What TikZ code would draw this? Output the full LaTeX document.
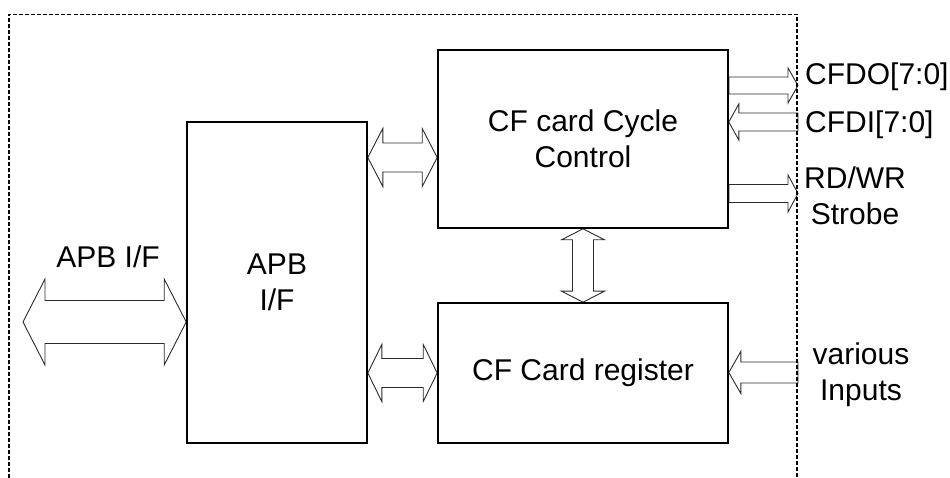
\documentclass[tikz,border=0pt]{standalone}
\usepackage{fontspec}
\setmainfont{Liberation Sans}
\usetikzlibrary{calc, backgrounds}
\definecolor{busGrey}{HTML}{2B2B2B}

% hollow bus arrows: {shaft half width}{head half width}{head length}
\tikzset{
  bus/.style n args={3}{draw=busGrey, line width=0.9pt, line join=miter,
    to path={let \p1=(\tikztostart), \p2=(\tikztotarget), \n1={atan2(\y2-\y1,\x2-\x1)} in
      -- ($(\p1)+(\n1:#3pt)+(\n1+90:#2pt)$)
      -- ($(\p1)+(\n1:#3pt)+(\n1+90:#1pt)$)
      -- ($(\p2)+(\n1+180:#3pt)+(\n1+90:#1pt)$)
      -- ($(\p2)+(\n1+180:#3pt)+(\n1+90:#2pt)$)
      -- (\p2)
      -- ($(\p2)+(\n1+180:#3pt)+(\n1-90:#2pt)$)
      -- ($(\p2)+(\n1+180:#3pt)+(\n1-90:#1pt)$)
      -- ($(\p1)+(\n1:#3pt)+(\n1-90:#1pt)$)
      -- ($(\p1)+(\n1:#3pt)+(\n1-90:#2pt)$)
      -- cycle}},
  feed/.style n args={3}{draw=busGrey, line width=0.9pt, line join=miter,
    to path={let \p1=(\tikztostart), \p2=(\tikztotarget), \n1={atan2(\y2-\y1,\x2-\x1)} in
      -- ($(\p1)+(\n1+90:#1pt)$)
      -- ($(\p2)+(\n1+180:#3pt)+(\n1+90:#1pt)$)
      -- ($(\p2)+(\n1+180:#3pt)+(\n1+90:#2pt)$)
      -- (\p2)
      -- ($(\p2)+(\n1+180:#3pt)+(\n1-90:#2pt)$)
      -- ($(\p2)+(\n1+180:#3pt)+(\n1-90:#1pt)$)
      -- ($(\p1)+(\n1-90:#1pt)$)
      -- cycle}}
}

\begin{document}
\begin{tikzpicture}[x=1pt, y=-1pt, font={\fontsize{30}{36}\selectfont},
    block/.style={draw, line width=1.6pt, align=center},
    lbl/.style={inner sep=0pt, align=center}]
  \useasboundingbox (0,0) rectangle (950,478);
  \draw[line width=1.3pt, dash pattern=on 4pt off 2pt] (9,478) |- (797,14.5) -- (797,478);

  \node[block, minimum width=180pt, minimum height=321pt] (apb) at (277,282.5) {APB\\I/F};
  \node[block, minimum width=290pt, minimum height=178pt] (cyc) at (583,139) {CF card Cycle\\Control};
  \node[block, minimum width=290pt, minimum height=140pt] (reg) at (583,373) {CF Card register};

  \coordinate (apbin) at (23,322);
  \coordinate (cycin) at (0,157.5);
  \coordinate (dout) at (798,85.5);
  \coordinate (din) at (798,122);
  \coordinate (rdwr) at (798,193.5);
  \coordinate (misc) at (798,372.5);

  \begin{scope}[on background layer]
    \draw[bus={21.5}{43}{22}] (apbin) to (apb.west |- apbin);
    \draw[bus={14.5}{29}{15}] (apb.east |- cycin) to (cyc.west |- cycin);
    \draw[bus={14.5}{28.5}{14}] (apb.east |- reg.west) to (reg.west);
    \draw[bus={10.5}{21.5}{11}] (cyc.south) to (reg.north);
    \draw[feed={8.5}{17.5}{10}] (cyc.east |- dout) to (dout);
    \draw[feed={9}{18}{10}] (din) to (cyc.east |- din);
    \draw[feed={9}{18.5}{10}] (cyc.east |- rdwr) to (rdwr);
    \draw[feed={10.5}{21}{12}] (misc) to (reg.east |- misc);
  \end{scope}

  \node[lbl, anchor=base] (apbLabel) at (108,268) {APB I/F};
  \node[lbl, anchor=base west] (doutLabel) at (805,85) {CFDO[7:0]};
  \node[lbl, anchor=base west] (dinLabel) at (805,133) {CFDI[7:0]};
  \node[lbl, anchor=base] (rdwrLabel) at (855,225) {RD/WR\\Strobe};
  \node[lbl, anchor=base] (miscLabel) at (861,400) {various\\Inputs};
\end{tikzpicture}
\end{document}
